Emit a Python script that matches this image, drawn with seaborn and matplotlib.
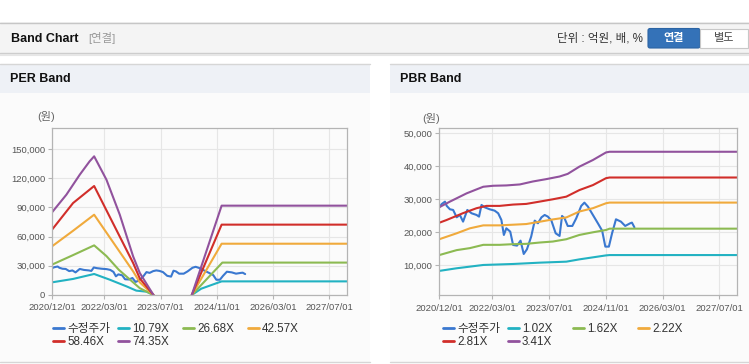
import numpy as np
import pandas as pd
import seaborn as sns
import matplotlib.pyplot as plt
import matplotlib.ticker as mticker
from matplotlib.patches import Rectangle, FancyBboxPatch
from matplotlib.lines import Line2D

# ---- data (months counted from 2020/12/01) ----
price_months = [0, 0.7, 1.6, 2.1, 3.0, 3.9, 4.9, 5.8, 6.7, 7.9,
                9.1, 10.5, 11.2, 11.9, 12.8, 14.2, 15.6, 16.6, 17.5, 18.2,
                18.9, 20.0, 20.8, 21.9, 22.9, 23.8, 24.7, 25.9, 26.9, 27.8,
                28.8, 29.7, 30.6, 31.6, 32.8, 33.9, 34.6, 35.3, 36.2, 37.5,
                38.6, 40.0, 40.9, 41.9, 43.3, 44.7, 45.9, 46.8, 47.8, 48.7,
                49.8, 51.2, 52.4, 53.8, 54.3, 55.0]
price = [27570, 28580, 29290, 27980, 26970, 26770, 24540, 25250, 23230, 26770,
         25760, 25250, 24750, 28280, 27570, 26970, 26560, 25760, 23740, 19190,
         21210, 20200, 16160, 15960, 17470, 13430, 14850, 18690, 23530, 22730,
         24540, 25250, 24750, 23530, 19700, 18890, 24950, 24240, 21920, 21920,
         24240, 27980, 28990, 27780, 25250, 22730, 20500, 15660, 15660, 19700,
         23940, 23230, 21920, 22730, 22930, 21510]

per_labels = ['수정주가', '10.79X', '26.68X', '42.57X', '58.46X', '74.35X']
pbr_labels = ['수정주가', '1.02X', '1.62X', '2.22X', '2.81X', '3.41X']
colors = ['#3a78d0', '#22b2c2', '#8cba52', '#f0aa3c', '#d12e2a', '#91529d']

# PER band: two pieces (gap where earnings were negative)
per_bands = {
    '10.79X': ([0, 6, 12, 16.4, 21.2, 24.0, 26.9, 28.9], [13000, 16500, 21600, 15800, 8900, 4500, 3400, 0],
               [39.8, 42.5, 48.3, 84], [0, 6500, 14000, 14000]),
    '26.68X': ([0, 6, 12, 15.5, 19.0, 23.1, 25.0, 28.9], [31200, 41000, 51000, 40000, 26000, 13000, 7000, 0],
               [39.8, 48.5, 84], [0, 33300, 33300]),
    '42.57X': ([0, 6, 12, 23.1, 25.0, 28.9], [50000, 66000, 82500, 24300, 13000, 0],
               [39.8, 48.3, 84], [0, 52700, 52700]),
    '58.46X': ([0, 6, 12, 23.1, 25.0, 28.9], [67100, 94500, 112000, 32900, 17000, 0],
               [39.8, 48.3, 84], [0, 72300, 72300]),
    '74.35X': ([0, 4.1, 7.9, 10.7, 12.0, 15.5, 19.3, 23.1, 25.0, 28.9],
               [84900, 103100, 123600, 137300, 142500, 118500, 82500, 39700, 22600, 0],
               [39.8, 48.3, 84], [0, 91800, 91800]),
}

pbr_bands = {
    '1.02X': ([0, 4.9, 12.4, 20.8, 28.3, 35.8, 39.5, 47.0, 48.0, 84],
              [8300, 9100, 10100, 10400, 10800, 11100, 11800, 13000, 13100, 13100]),
    '1.62X': ([0, 4.9, 8.6, 12.4, 17.0, 20.8, 24.5, 28.3, 32.0, 35.8, 39.5, 43.3, 47.0, 48.0, 84],
              [13100, 14600, 15200, 16200, 16200, 16400, 16500, 16900, 17200, 17900, 19200, 20000, 20700, 21100, 21100]),
    '2.22X': ([0, 4.9, 8.6, 12.4, 17.0, 20.8, 24.5, 28.3, 32.0, 35.8, 39.5, 43.3, 47.0, 48.0, 84],
              [17900, 19700, 21200, 22100, 22100, 22300, 22500, 23200, 23900, 24500, 26300, 27300, 28800, 29000, 29000]),
    '2.81X': ([0, 2.0, 6.7, 10.5, 13.3, 17.0, 20.8, 24.5, 28.3, 32.0, 35.8, 39.5, 43.3, 47.0, 48.0, 84],
              [22900, 23700, 25800, 27300, 28000, 28000, 28400, 28600, 29300, 30000, 30800, 32800, 34300, 36400, 36600, 36600]),
    '3.41X': ([0, 3.0, 7.7, 10.5, 12.4, 15.2, 18.9, 22.7, 26.4, 30.1, 33.9, 36.2, 39.5, 43.3, 47.0, 48.0, 84],
              [27600, 29300, 31800, 33000, 33800, 34100, 34200, 34500, 35400, 36100, 36900, 37700, 39900, 41900, 44200, 44400, 44400]),
}

xtick_dates = ['2020-12-01', '2022-03-01', '2023-07-01', '2024-11-01', '2026-03-01', '2027-07-01']
start = pd.Timestamp('2020-12-01')


def to_date(months):
    return start + pd.to_timedelta(np.asarray(months, dtype=float) * 30.4375, unit='D')


def frame(name, months, vals, seg=0):
    return pd.DataFrame({'series': name, 'date': to_date(months), 'value': vals, 'seg': seg})


per_parts = [frame('수정주가', price_months, price)]
for k, (m1, v1, m2, v2) in per_bands.items():
    per_parts.append(frame(k, m1, v1, 0))
    per_parts.append(frame(k, m2, v2, 1))
per_df = pd.concat(per_parts, ignore_index=True)

pbr_parts = [frame('수정주가', price_months, price)]
for k, (m, v) in pbr_bands.items():
    pbr_parts.append(frame(k, m, v))
pbr_df = pd.concat(pbr_parts, ignore_index=True)

# ---- figure ----
sns.set_style('white')
plt.rcParams['font.family'] = ['Liberation Sans', 'Noto Sans CJK KR']

W, H = 749, 364
fig = plt.figure(figsize=(W / 100, H / 100), dpi=100)
fig.patch.set_facecolor('white')

bg = fig.add_axes([0, 0, 1, 1], zorder=-5)
bg.set_xlim(0, W)
bg.set_ylim(H, 0)
bg.axis('off')

# top bar
bg.add_patch(Rectangle((0, 22), W, 31, facecolor='#f4f4f4', edgecolor='none'))
bg.plot([0, W], [22.5, 22.5], color='#c6c6c6', lw=1)
bg.plot([0, W], [53, 53], color='#cccccc', lw=1)
bg.plot([0, W], [54.5, 54.5], color='#e6e6e6', lw=1.5)
bg.text(11, 38.5, 'Band Chart', fontsize=9, fontweight='bold', color='#111111', va='center')
bg.text(88, 38.5, '[연결]', fontsize=8.2, color='#999999', va='center')
bg.text(643, 38.5, '단위 : 억원, 배, %', fontsize=8.3, color='#333333', va='center', ha='right')
bg.add_patch(FancyBboxPatch((648, 28.5), 52, 19.5, boxstyle='round,pad=0,rounding_size=2',
                            facecolor='#3472b8', edgecolor='#2c64a4', lw=0.8))
bg.add_patch(Rectangle((700, 28.5), 48, 19.5, facecolor='white', edgecolor='#c8c8c8', lw=0.8))
bg.text(674, 38.5, '연결', fontsize=8, fontweight='bold', color='white', va='center', ha='center')
bg.text(724, 38.5, '별도', fontsize=8, color='#444444', va='center', ha='center')

# panels
for x0, x1, title in [(0, 370, 'PER Band'), (390, W, 'PBR Band')]:
    bg.add_patch(Rectangle((x0, 64), x1 - x0, 29, facecolor='#eef1f6', edgecolor='none'))
    bg.add_patch(Rectangle((x0, 93), x1 - x0, 269, facecolor='#fbfbfb', edgecolor='none'))
    bg.plot([x0, x1], [64, 64], color='#d6d6d6', lw=1)
    bg.plot([x0, x1], [362, 362], color='#d6d6d6', lw=1)
    bg.text(x0 + 10, 79, title, fontsize=9, fontweight='bold', color='#111111', va='center')

bg.text(37, 117, '(원)', fontsize=8, color='#666666', va='center')
bg.text(422, 118, '(원)', fontsize=8, color='#666666', va='center')

ax1 = fig.add_axes([52 / W, 1 - 295 / H, 295 / W, 167 / H])
ax2 = fig.add_axes([439.3 / W, 1 - 295.3 / H, 298 / W, 167 / H])

for ax, df, labels, ylim, yticks in [
        (ax1, per_df, per_labels, (0, 171600), range(0, 150001, 30000)),
        (ax2, pbr_df, pbr_labels, (909, 51510), range(10000, 50001, 10000))]:
    sns.lineplot(data=df, x='date', y='value', hue='series', units='seg', estimator=None,
                 hue_order=labels, palette=colors, lw=1.5, legend=False, ax=ax)
    ax.set_facecolor('none')
    ax.set_xlim(start, to_date([84])[0])
    ax.set_ylim(*ylim)
    ax.set_xticks(pd.to_datetime(xtick_dates))
    ax.set_xticklabels([d.replace('-', '/') for d in xtick_dates])
    ax.set_yticks(list(yticks))
    ax.yaxis.set_major_formatter(mticker.FuncFormatter(lambda v, p: f'{v:,.0f}'))
    ax.set_xlabel('')
    ax.set_ylabel('')
    ax.grid(True, color='#e6e6e6', lw=0.8)
    ax.set_axisbelow(True)
    for s in ax.spines.values():
        s.set_color('#b4b4b4')
        s.set_linewidth(0.9)
    ax.tick_params(axis='both', labelsize=6.8, colors='#555555', length=3, width=0.8,
                   direction='out', pad=2)
    ax.tick_params(axis='both', color='#b4b4b4')
    ax.tick_params(axis='x', bottom=True, pad=3)
    ax.tick_params(axis='y', left=True)

# legends, one per column so the columns sit on a fixed grid
for x_start, labels in [(53, per_labels), (443, pbr_labels)]:
    for c in range(4):
        idx = [i for i in range(c, len(labels), 4)]
        handles = [Line2D([], [], color=colors[i], lw=2) for i in idx]
        fig.legend(handles, [labels[i] for i in idx], loc='upper left',
                   bbox_to_anchor=((x_start + 65 * c) / W, 1 - 323 / H),
                   frameon=False, fontsize=8.4, handlelength=0.9, handletextpad=0.3,
                   labelspacing=0.12, borderpad=0, borderaxespad=0, labelcolor='#333333')

fig.savefig('out.png', dpi=100, facecolor='white')
